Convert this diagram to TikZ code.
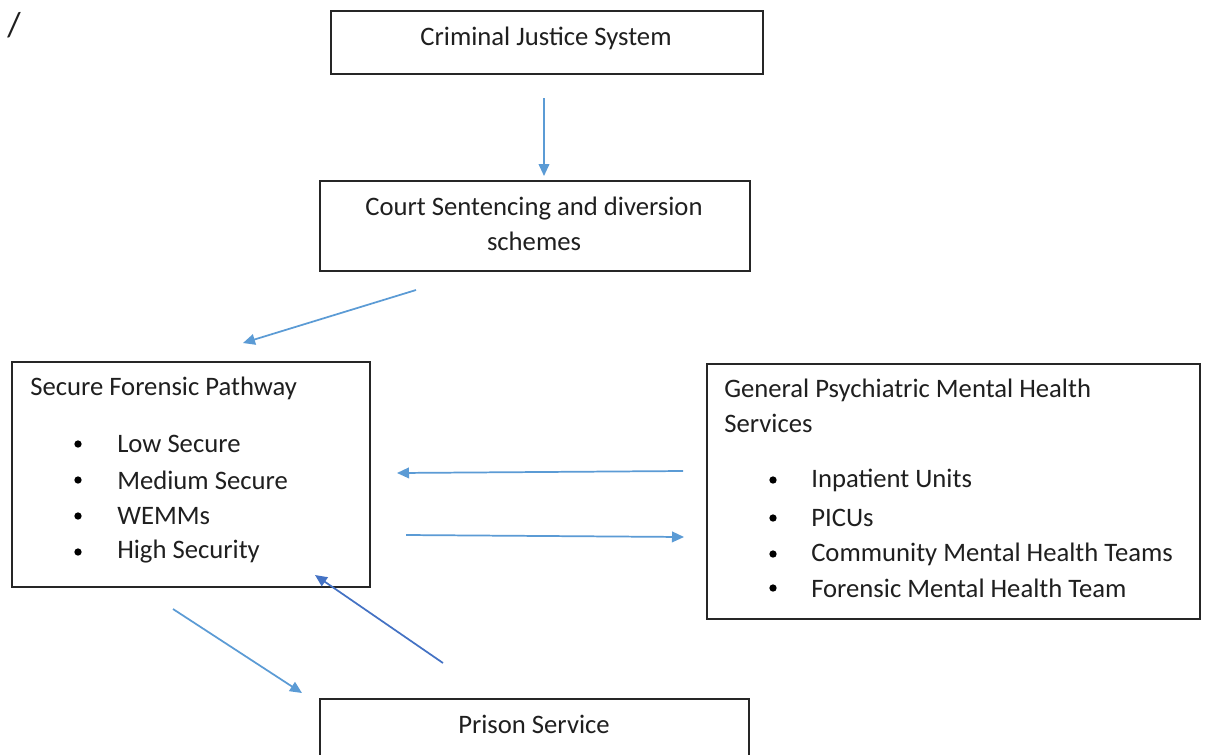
\documentclass[tikz,border=0pt]{standalone}
\usepackage{fontspec}
\setmainfont{Carlito}
\usetikzlibrary{arrows.meta}
\definecolor{linkblue}{HTML}{5B9BD5}
\definecolor{linkdark}{HTML}{4472C4}
\begin{document}
\begin{tikzpicture}[x=0.75pt,y=-0.75pt,
  every node/.style={font=\fontsize{20}{25}\selectfont, text=black!88},
  box/.style={draw=black!85, line width=1.3pt, inner sep=0pt},
  label/.style={inner sep=0pt, anchor=west},
  centred/.style={inner sep=0pt, anchor=center, align=center},
  bulletdot/.style={circle, fill=black, inner sep=0pt, minimum size=5.5pt},
  link/.style={draw=linkblue, line width=1.3pt, -{Triangle[length=9pt,width=8pt]}},
  linkstrong/.style={draw=linkdark, line width=1.3pt, -{Triangle[length=9pt,width=8pt]}}]
\useasboundingbox (0,0) rectangle (1205,754);
\clip (0,0) rectangle (1205,754);
\fill[white] (0,0) rectangle (1205,754);

% stray mark in the corner
\node[centred, font=\fontsize{26}{28}\selectfont] (slash) at (14,25) {/};

% boxes
\draw[box] (331,11) rectangle (763,74);
\draw[box] (320,181) rectangle (750,271);
\draw[box] (12,362) rectangle (370,587);
\draw[box] (707,364) rectangle (1200,619);
\draw[box] (320,699) rectangle (749,770);

% box texts
\node[centred] (cjs) at (546,38) {Criminal Justice System};
\node[centred] (court) at (534,224) {Court Sentencing and diversion\\[1pt]schemes};
\node[centred] (prison) at (534,724) {Prison Service};

\node[label] (sfp) at (30,388) {Secure Forensic Pathway};
\foreach \y/\t [count=\i] in {443/Low Secure,479/Medium Secure,515/WEMMs,551/High Security}{
  \node[bulletdot] (sfpb\i) at (78,\y+1) {};
  \node[label] (sfpt\i) at (117,\y+1) {\t};
}

\node[label, align=left] (gp) at (724,406) {General Psychiatric Mental Health\\[1.5pt]Services};
\foreach \y/\t [count=\i] in {479/Inpatient Units,517/PICUs,553/Community Mental Health Teams,587/Forensic Mental Health Team}{
  \node[bulletdot] (gpb\i) at (773,\y+1) {};
  \node[label] (gpt\i) at (811,\y+1) {\t};
}

% connector end points
\coordinate (a1) at (544,98);  \coordinate (a2) at (544,176);
\coordinate (b1) at (416,290); \coordinate (b2) at (243,343);
\coordinate (c1) at (683,471); \coordinate (c2) at (397,473);
\coordinate (d1) at (406,535); \coordinate (d2) at (684,537);
\coordinate (e1) at (173,609); \coordinate (e2) at (302,693);
\coordinate (f1) at (443,663); \coordinate (f2) at (315,575);

\draw[link] (a1) -- (a2);
\draw[link] (b1) -- (b2);
\draw[link] (c1) -- (c2);
\draw[link] (d1) -- (d2);
\draw[link] (e1) -- (e2);
\draw[linkstrong] (f1) -- (f2);
\end{tikzpicture}
\end{document}
